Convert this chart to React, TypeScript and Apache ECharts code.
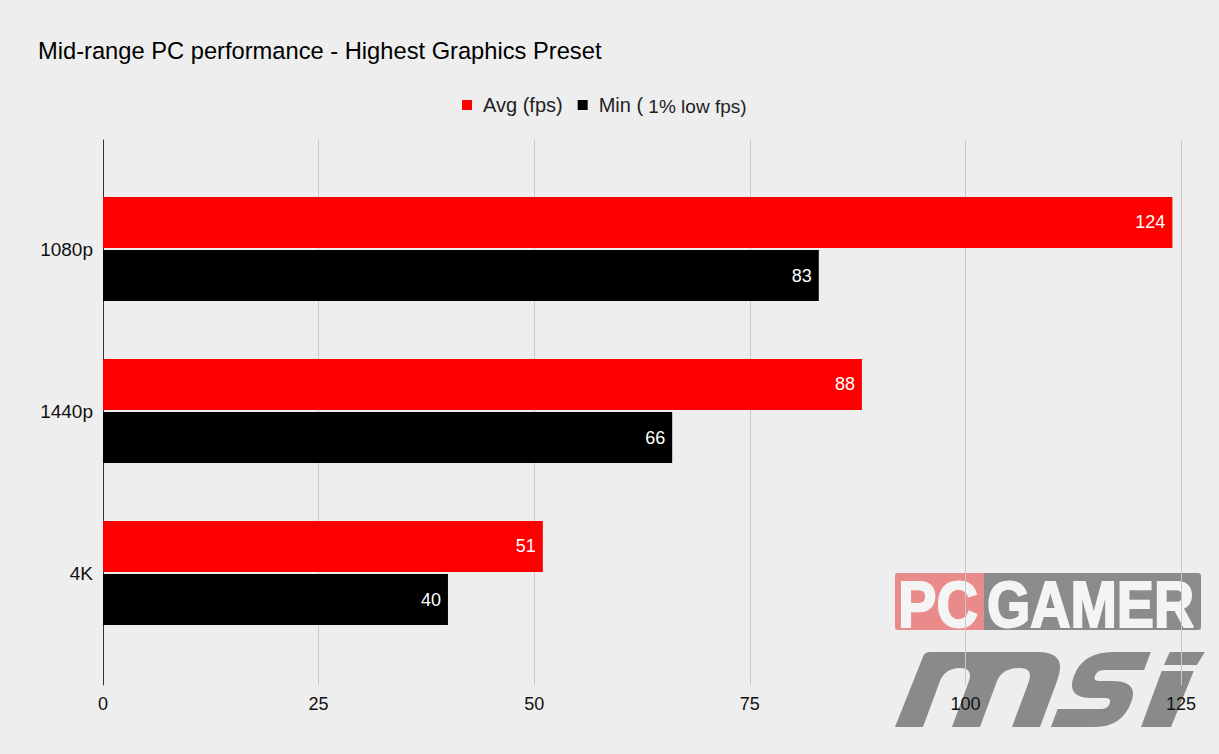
import React, { useEffect, useRef } from "react";
import * as echarts from "echarts";

const categories = ["1080p", "1440p", "4K"];
const avgFps = [124, 88, 51];
const minFps = [83, 66, 40];
const xTicks = { min: 0, max: 125, interval: 25 };
const seriesNames = ["Avg (fps)", "Min ( 1% low fps)"];
const titleText = "Mid-range PC performance - Highest Graphics Preset";

const FONT = "'Liberation Sans', Arial, sans-serif";

// msi watermark logo drawn as an upright outline, then slanted
const MSI_UPRIGHT =
  "M0,75 L2,4 Q2,0 8,0 L115,0 Q145,0 145,28 L145,75 L117,75 L117,30 Q117,16 103,16 Q85,16 85,30 L85,75 L57,75 L57,30 Q57,16 43,16 Q28,16 28,30 L28,75 Z " +
  "M228,0 L190,0 Q160,0 160,24 Q160,46 186,46 L200,46 Q206,46 206,52 Q206,57 199,57 L156,57 L156,75 L200,75 Q227,75 227,50 Q227,29 200,29 L187,29 Q181,29 181,24 Q181,18 188,18 L228,18 Z " +
  "M247,0 L282,0 L279,13 L246,13 Z " +
  "M246,19 L278,19 L276,75 L246,75 Z";

function slantPath(d: string, ox: number, oy: number, slant: number, h: number) {
  return d.replace(/(-?\d+\.?\d*),(-?\d+\.?\d*)/g, (_m, xs, ys) => {
    const x = parseFloat(xs);
    const y = parseFloat(ys);
    return `${(ox + x + slant * (h - y)).toFixed(1)},${(oy + y).toFixed(1)}`;
  });
}

let registered = false;
function registerLogo() {
  if (registered) return;
  registered = true;
  const d = slantPath(MSI_UPRIGHT, 895, 652, 0.37, 75);
  echarts.graphic.registerShape("msilogo", echarts.graphic.extendPath(d, {}));
}

export default function App() {
  const ref = useRef<HTMLDivElement>(null);
  useEffect(() => {
    if (!ref.current) return;
    registerLogo();
    const chart = echarts.init(ref.current, null, { renderer: "svg" });
    const labelStyle = {
      show: true,
      position: "insideRight",
      distance: 7,
      color: "#ffffff",
      fontSize: 18,
      fontFamily: FONT,
    };
    chart.setOption({
      animation: false,
      backgroundColor: "#eeeeee",
      textStyle: { fontFamily: FONT },
      title: {
        text: titleText,
        left: 38,
        top: 39,
        padding: 0,
        textStyle: { fontSize: 23.7, fontWeight: "normal", color: "#000", fontFamily: FONT },
      },
      legend: {
        top: 90,
        left: 457,
        icon: "rect",
        itemWidth: 10,
        itemHeight: 10,
        itemGap: 15,
        data: seriesNames,
        formatter: (name: string) => {
          const i = name.indexOf("(");
          if (name === seriesNames[1] && i >= 0) {
            return `{a|${name.slice(0, i + 1)}}{b|${name.slice(i + 1)}}`;
          }
          return `{a|${name}}`;
        },
        textStyle: {
          fontSize: 20,
          color: "#222",
          fontFamily: FONT,
          padding: [0, 0, 0, 6],
          rich: {
            a: { fontSize: 20, color: "#222", fontFamily: FONT },
            b: { fontSize: 19, color: "#222", fontFamily: FONT, padding: [2, 0, 0, 0] },
          },
        },
      },
      grid: [
        { left: 103, right: 38, top: 168, bottom: 100 },
        { left: 103, right: 38, top: 140, bottom: 69 },
      ],
      xAxis: [
        {
          gridIndex: 0,
          type: "value",
          min: xTicks.min,
          max: xTicks.max,
          interval: xTicks.interval,
          show: false,
        },
        {
          gridIndex: 1,
          type: "value",
          min: xTicks.min,
          max: xTicks.max,
          interval: xTicks.interval,
          axisLine: { show: false },
          axisTick: { show: false },
          axisLabel: { color: "#111", fontSize: 18, margin: 10, fontFamily: FONT },
          splitLine: { show: true, lineStyle: { color: "#c8c8c8", width: 1 } },
        },
      ],
      yAxis: [
        {
          gridIndex: 0,
          type: "category",
          data: categories,
          inverse: true,
          axisLine: { show: false },
          axisTick: { show: false },
          axisLabel: { color: "#111", fontSize: 19, margin: 10, fontFamily: FONT },
          splitLine: { show: false },
        },
        {
          gridIndex: 1,
          type: "value",
          min: 0,
          max: 1,
          axisLine: { show: true, onZero: false, lineStyle: { color: "#333", width: 1 } },
          axisTick: { show: false },
          axisLabel: { show: false },
          splitLine: { show: false },
        },
      ],
      series: [
        {
          name: seriesNames[0],
          type: "bar",
          xAxisIndex: 0,
          yAxisIndex: 0,
          data: avgFps,
          barWidth: 51,
          barGap: "4%",
          itemStyle: { color: "#ff0000" },
          label: labelStyle,
        },
        {
          name: seriesNames[1],
          type: "bar",
          xAxisIndex: 0,
          yAxisIndex: 0,
          data: minFps,
          barWidth: 51,
          barGap: "4%",
          itemStyle: { color: "#000000" },
          label: labelStyle,
        },
        {
          type: "scatter",
          xAxisIndex: 1,
          yAxisIndex: 1,
          data: [],
          silent: true,
        },
      ],
      graphic: [
        {
          type: "rect",
          z: -10,
          shape: { x: 895, y: 573, width: 90, height: 57, r: [3, 0, 0, 3] },
          style: { fill: "#ea8b8b" },
        },
        {
          type: "rect",
          z: -10,
          shape: { x: 984, y: 573, width: 217, height: 57, r: [0, 3, 3, 0] },
          style: { fill: "#8b8b8b" },
        },
        {
          type: "text",
          z: -9,
          x: 898,
          y: 573,
          scaleX: 0.9,
          style: {
            text: "PC",
            fill: "#f4f4f4",
            fontSize: 64,
            fontWeight: 900,
            fontFamily: FONT,
            textVerticalAlign: "top",
            stroke: "#f4f4f4",
            lineWidth: 2,
          },
        },
        {
          type: "text",
          z: -9,
          x: 987,
          y: 573,
          scaleX: 0.87,
          style: {
            text: "GAMER",
            fill: "#f4f4f4",
            fontSize: 64,
            fontWeight: 900,
            fontFamily: FONT,
            textVerticalAlign: "top",
            stroke: "#f4f4f4",
            lineWidth: 2,
          },
        },
        {
          type: "msilogo",
          z: -9,
          silent: true,
          style: { fill: "#8a8a8a" },
        },
      ],
    });
    return () => chart.dispose();
  }, []);
  return <div ref={ref} style={{ width: 1219, height: 754, position: "absolute", left: 0, top: 0 }} />;
}
